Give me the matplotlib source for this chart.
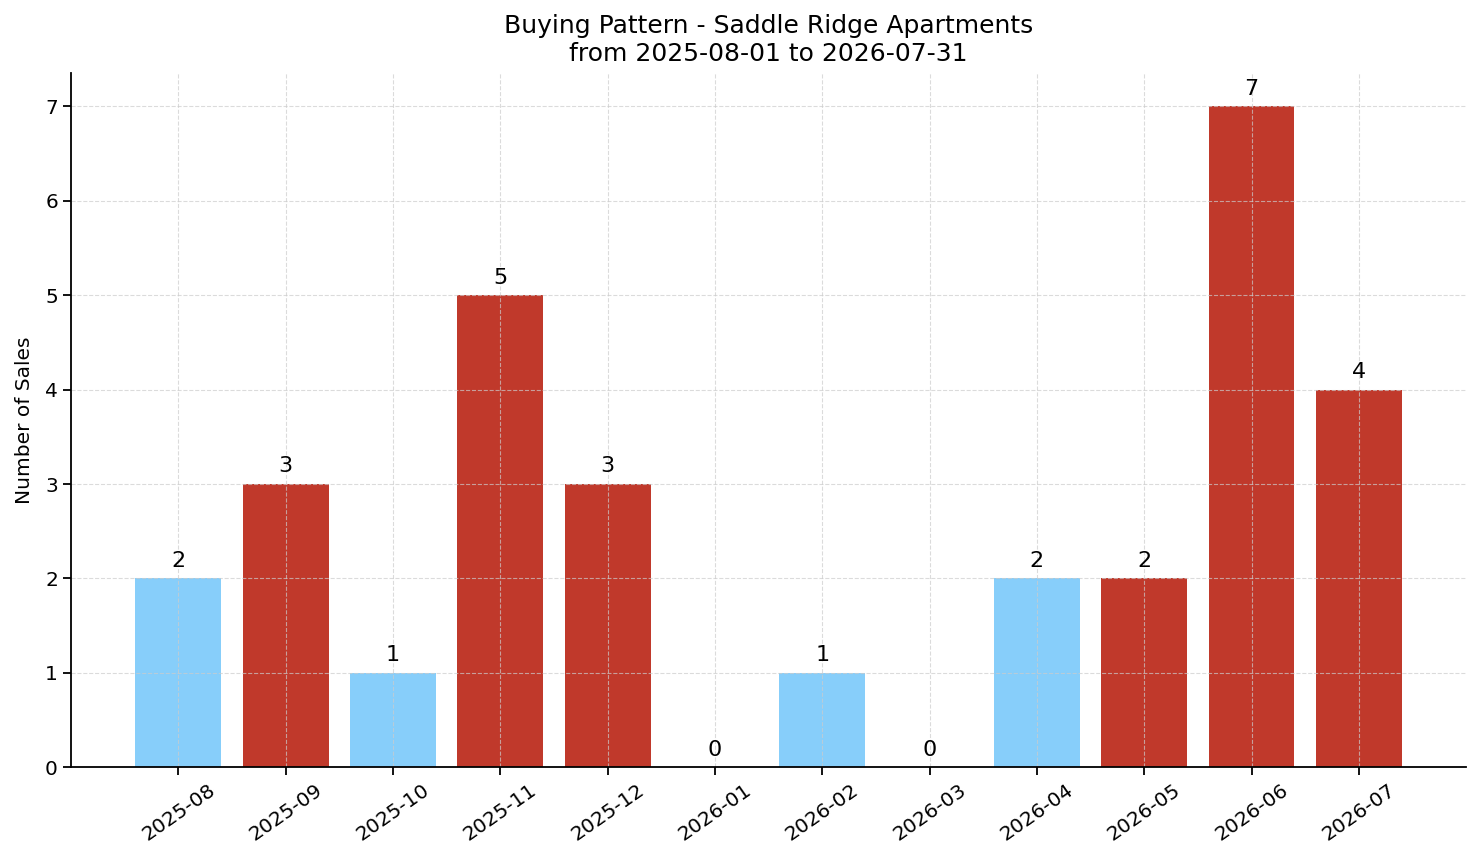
import matplotlib
matplotlib.use("Agg")
import matplotlib.pyplot as plt

months = ["2025-08", "2025-09", "2025-10", "2025-11", "2025-12", "2026-01",
          "2026-02", "2026-03", "2026-04", "2026-05", "2026-06", "2026-07"]
sales = [2, 3, 1, 5, 3, 0, 1, 0, 2, 2, 7, 4]
bar_colors = ["#87CEFA", "#C0392B", "#87CEFA", "#C0392B", "#C0392B", "#87CEFA",
              "#87CEFA", "#87CEFA", "#87CEFA", "#C0392B", "#C0392B", "#C0392B"]

fig, ax = plt.subplots(figsize=(14.81, 8.63), dpi=100)
x = list(range(len(months)))
bars = ax.bar(x, sales, color=bar_colors, width=0.8)
for xi, v in zip(x, sales):
    ax.text(xi, v + 0.08, str(v), ha="center", va="bottom", fontsize=16)

ax.set_xticks(x)
ax.set_xticklabels(months, rotation=35, ha="center", fontsize=14.5)
ax.tick_params(axis="y", labelsize=14.5)
ax.tick_params(axis="both", length=6, width=1.3)
ax.set_xlim(-1, 12)
ax.set_ylabel("Number of Sales", fontsize=14.5, labelpad=8)
ax.set_title("Buying Pattern - Saddle Ridge Apartments\nfrom 2025-08-01 to 2026-07-31", fontsize=18, pad=9)
ax.grid(True, linestyle="--", color="#cccccc", alpha=0.7, linewidth=0.8)
ax.spines["top"].set_visible(False)
ax.spines["right"].set_visible(False)
ax.spines["left"].set_linewidth(1.3)
ax.spines["bottom"].set_linewidth(1.3)

fig.subplots_adjust(left=0.048, right=0.99, top=0.915, bottom=0.111)
fig.savefig("out.png", dpi=100)
